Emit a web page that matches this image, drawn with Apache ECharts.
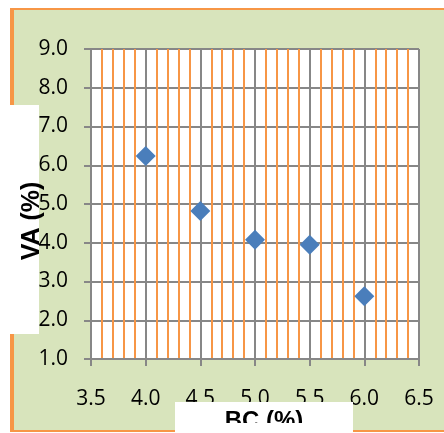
<!DOCTYPE html>
<html>
<head>
<meta charset="utf-8">
<script src="https://cdn.jsdelivr.net/npm/echarts@6/dist/echarts.min.js"></script>
<style>
html,body{margin:0;padding:0;background:#ffffff;}
#c{width:444px;height:433px;}
</style>
</head>
<body>
<div id="c"></div>
<script>
var bcValues = [4.0, 4.5, 5.0, 5.5, 6.0];
var vaValues = [6.24, 4.82, 4.08, 3.95, 2.62];
var xTicks = {min: 3.5, max: 6.5, step: 0.5};
var yTicks = {min: 1.0, max: 9.0, step: 1.0};
var xTitle = 'BC (%)';
var yTitle = 'VA (%)';

var points = bcValues.map(function (x, i) { return [x, vaValues[i]]; });
var GREEN = '#d8e4bc', ORANGE = '#f79646', GRAY = '#878787';
var FONT = '"Open Sans", "Liberation Sans", sans-serif';

var chart = echarts.init(document.getElementById('c'), null, {renderer: 'canvas'});
chart.setOption({
  animation: false,
  backgroundColor: '#ffffff',
  grid: {left: 91, top: 49, right: 25, bottom: 74, show: true, z: -5, borderWidth: 0, backgroundColor: '#ffffff'},
  xAxis: {
    type: 'value', min: xTicks.min, max: xTicks.max, interval: xTicks.step,
    axisLine: {show: true, lineStyle: {color: GRAY, width: 2}},
    axisTick: {show: true, inside: false, length: 7, lineStyle: {color: GRAY, width: 2}},
    axisLabel: {margin: 30, color: '#000000', fontSize: 21, fontFamily: FONT,
      formatter: function (v) { return v.toFixed(1); }},
    splitLine: {show: true, lineStyle: {color: GRAY, width: 2}},
    minorTick: {show: false, splitNumber: 5},
    minorSplitLine: {show: true, lineStyle: {color: ORANGE, width: 2}}
  },
  yAxis: {
    type: 'value', min: yTicks.min, max: yTicks.max, interval: yTicks.step,
    axisLine: {show: true, lineStyle: {color: GRAY, width: 2}},
    axisTick: {show: true, inside: false, length: 7, lineStyle: {color: GRAY, width: 2}},
    axisLabel: {margin: 23, color: '#000000', fontSize: 21, fontFamily: FONT,
      formatter: function (v) { return v.toFixed(1); }},
    splitLine: {show: true, lineStyle: {color: GRAY, width: 2}}
  },
  series: [{
    type: 'scatter', data: points, symbol: 'diamond', symbolSize: 20,
    itemStyle: {color: '#4a7ebb', opacity: 1}, z: 10
  }],
  graphic: [
    {type: 'rect', z: -10, shape: {x: 14, y: 10, width: 430, height: 420}, style: {fill: GREEN}},
    {type: 'rect', z: -9, shape: {x: 10, y: 8, width: 434, height: 2}, style: {fill: ORANGE}},
    {type: 'rect', z: -9, shape: {x: 10, y: 8, width: 4, height: 424}, style: {fill: ORANGE}},
    {type: 'rect', z: -9, shape: {x: 10, y: 430, width: 434, height: 2}, style: {fill: ORANGE}},
    {type: 'rect', z: 100, shape: {x: 10, y: 105, width: 29, height: 229}, style: {fill: '#ffffff'}},
    {type: 'text', z: 101, x: 32.5, y: 221, rotation: Math.PI / 2,
      style: {text: yTitle, font: 'bold 25px "Liberation Sans", Arial, sans-serif', fill: '#000000',
        textAlign: 'center', textVerticalAlign: 'middle'}},
    {type: 'rect', z: 100, shape: {x: 175, y: 402, width: 178, height: 31}, style: {fill: '#ffffff'}},
    {type: 'text', z: 101, x: 264, y: 421,
      style: {text: xTitle, font: 'bold 24px "Liberation Sans", Arial, sans-serif', fill: '#000000',
        textAlign: 'center', textVerticalAlign: 'middle'}},
    {type: 'rect', z: 102, shape: {x: 175, y: 423, width: 178, height: 10}, style: {fill: '#ffffff'}}
  ]
});
</script>
</body>
</html>
